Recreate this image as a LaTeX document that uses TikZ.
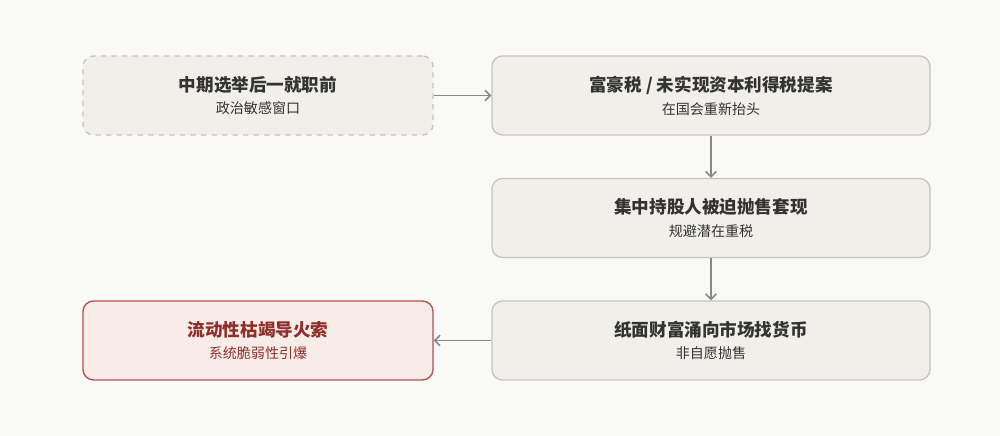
\documentclass[tikz,border=0pt]{standalone}
\usepackage{fontspec}
\newfontfamily\cjk{Noto Sans CJK SC}
\usetikzlibrary{positioning,arrows.meta}
\definecolor{bgc}{HTML}{F9F9F7}
\definecolor{boxfill}{HTML}{F1EFE9}
\definecolor{boxline}{HTML}{C8C5BE}
\definecolor{redfill}{HTML}{F8ECE9}
\definecolor{redline}{HTML}{B5524F}
\definecolor{redtext}{HTML}{8E2F2B}
\definecolor{txt}{HTML}{333333}
\definecolor{subtxt}{HTML}{555555}
\definecolor{arr}{HTML}{888888}
\tikzset{
  stage/.style={draw=boxline, fill=boxfill, rounded corners=6pt, line width=0.8pt,
    minimum width=8.76cm, minimum height=1.58cm, align=center, text=txt, font=\cjk},
  wide/.style={minimum width=8.76cm},
  narrow/.style={minimum width=7cm},
  hot/.style={draw=redline, fill=redfill, text=redtext},
  flow/.style={draw=arr, line width=0.9pt, -{Straight Barb[length=3pt,width=6pt]}}
}
\newcommand{\boxtext}[2]{{\fontsize{10}{13}\selectfont\bfseries #1}\\[1pt]{\fontsize{8}{11}\selectfont #2}}
\begin{document}
\begin{tikzpicture}
\fill[bgc] (0,0) rectangle (20,8.72);
\useasboundingbox (0,0) rectangle (20,8.72);
% left column
\node[stage, narrow, dashed] (window) at (5.16,6.81) {\boxtext{中期选举后一就职前}{政治敏感窗口}};
\node[stage, narrow, hot] (fuse) at (5.16,1.91) {\boxtext{流动性枯竭导火索}{系统脆弱性引爆}};
% right column
\node[stage, wide] (tax) at (14.22,6.81) {\boxtext{富豪税 / 未实现资本利得税提案}{在国会重新抬头}};
\node[stage, wide] (sell) at (14.22,4.36) {\boxtext{集中持股人被迫抛售套现}{规避潜在重税}};
\node[stage, wide] (paper) at (14.22,1.91) {\boxtext{纸面财富涌向市场找货币}{非自愿抛售}};
% arrows
\draw[flow] (window) -- (tax);
\draw[flow] (tax) -- (sell);
\draw[flow] (sell) -- (paper);
\draw[flow] (paper) -- (fuse);
\end{tikzpicture}
\end{document}
